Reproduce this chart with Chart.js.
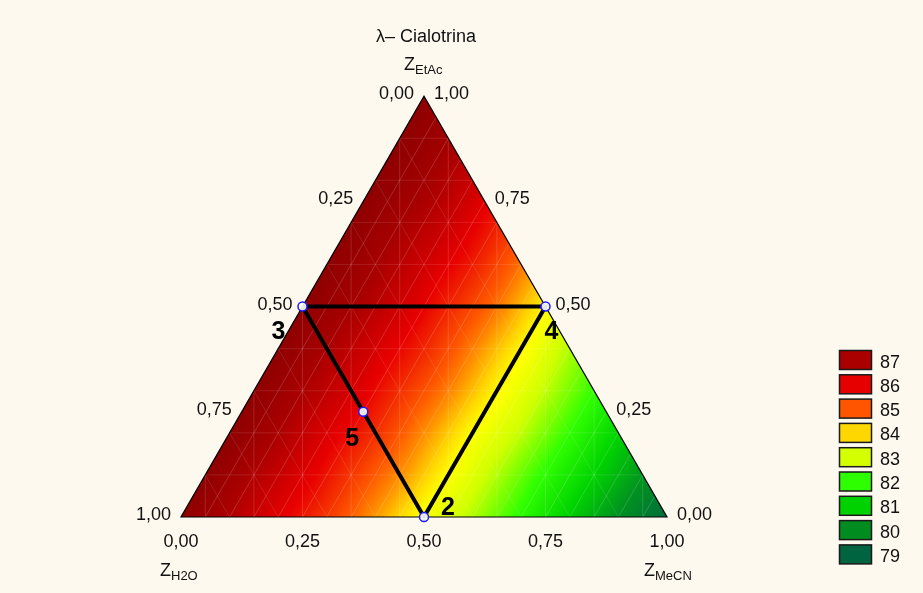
<!DOCTYPE html>
<html>
<head>
<meta charset="utf-8">
<title>λ– Cialotrina</title>
<script src="https://cdn.jsdelivr.net/npm/chart.js@4.4.1/dist/chart.umd.min.js"></script>
<style>
  html, body { margin: 0; padding: 0; background: #fdf9ef; }
  #wrap { width: 923px; height: 593px; }
</style>
</head>
<body>
<div id="wrap"><canvas id="chart" width="923" height="593"></canvas></div>
<script>
// Design runs (mixture fractions of the three solvents)
const runLabels = ['2', '3', '4', '5'];
const runH2O    = [0.50, 0.50, 0.00, 0.50];
const runMeCN   = [0.50, 0.00, 0.50, 0.25];
const runEtAc   = [0.00, 0.50, 0.50, 0.25];

// Closed path through runs 3 -> 4 -> 2 -> 3
const pathOrder = [1, 2, 0, 1];

// Axis tick labels
const tickLabels = ['0,00', '0,25', '0,50', '0,75', '1,00'];
const tickValues = [0, 0.25, 0.5, 0.75, 1];

// Legend levels
const legendLevels = [87, 86, 85, 84, 83, 82, 81, 80, 79];

// Response surface on a 0.1 lattice: row j is Z_EtAc = j/10,
// entry i in each row is Z_MeCN = i/10 (Z_H2O makes up the rest)
const surfaceRow0  = [87.7, 86.9, 86.1, 85.4, 84.5, 83.5, 82.8, 81.9, 80.9, 80.0, 79.1];
const surfaceRow1  = [87.7, 86.9, 86.2, 85.4, 84.6, 83.6, 82.8, 81.9, 81.0, 80.1];
const surfaceRow2  = [87.7, 87.0, 86.2, 85.5, 84.6, 83.6, 82.9, 82.0, 81.0];
const surfaceRow3  = [87.7, 87.0, 86.3, 85.5, 84.7, 83.7, 82.9, 82.0];
const surfaceRow4  = [87.7, 87.0, 86.3, 85.6, 84.7, 83.7, 82.8];
const surfaceRow5  = [87.7, 87.1, 86.4, 85.6, 84.8, 83.7];
const surfaceRow6  = [87.7, 87.1, 86.4, 85.7, 84.8];
const surfaceRow7  = [87.7, 87.1, 86.5, 85.7];
const surfaceRow8  = [87.7, 87.2, 86.5];
const surfaceRow9  = [87.7, 87.2];
const surfaceRow10 = [87.7];

const surfaceGrid = [surfaceRow0, surfaceRow1, surfaceRow2, surfaceRow3, surfaceRow4,
  surfaceRow5, surfaceRow6, surfaceRow7, surfaceRow8, surfaceRow9, surfaceRow10];

// Styling
const legendColors = ['#aa0000', '#e60000', '#ff5500', '#ffd700', '#d4ff00',
  '#2eff00', '#00d200', '#008c1e', '#006440'];
const rampStops = [
  [79, [0x00, 0x68, 0x40]], [80, [0x00, 0x90, 0x20]], [81, [0x00, 0xd4, 0x00]],
  [82, [0x30, 0xff, 0x00]], [83, [0xd0, 0xff, 0x00]], [83.6, [0xff, 0xff, 0x00]],
  [84, [0xff, 0xd8, 0x00]], [85, [0xff, 0x5a, 0x00]], [86, [0xe8, 0x00, 0x00]],
  [87, [0xaa, 0x00, 0x00]], [88, [0x82, 0x00, 0x00]]
];
const FONT = '"Liberation Sans", Arial, sans-serif';
const BG = '#fdf9ef';
const SQ3 = Math.sqrt(3) / 2;

// Ternary (MeCN, EtAc) -> plane coordinates
function toXY(m, e) { return { x: m + e / 2, y: e * SQ3 }; }

function rampColor(v) {
  if (v <= rampStops[0][0]) return rampStops[0][1];
  for (let k = 1; k < rampStops.length; k++) {
    if (v <= rampStops[k][0]) {
      const [v0, c0] = rampStops[k - 1], [v1, c1] = rampStops[k];
      const t = (v - v0) / (v1 - v0);
      return [0, 1, 2].map(n => c0[n] + t * (c1[n] - c0[n]));
    }
  }
  return rampStops[rampStops.length - 1][1];
}

function gridVal(i, j) {
  const row = surfaceGrid[Math.min(10, Math.max(0, j))];
  return row[Math.min(row.length - 1, Math.max(0, i))];
}

function surfaceAt(m, e) {
  const u = m * 10, v = e * 10;
  let i = Math.floor(u), j = Math.floor(v);
  if (i + j >= 10) { if (i > 0 && u >= v) i = 10 - j - 1; else j = 10 - i - 1; }
  i = Math.max(0, i); j = Math.max(0, j);
  const fu = u - i, fv = v - j;
  if (fu + fv <= 1 || i + j + 2 > 10) {
    const a = gridVal(i, j), b = gridVal(i + 1, j), c = gridVal(i, j + 1);
    return a + fu * (b - a) + fv * (c - a);
  }
  const d = gridVal(i + 1, j + 1), b = gridVal(i + 1, j), c = gridVal(i, j + 1);
  return d + (1 - fu) * (c - d) + (1 - fv) * (b - d);
}

const pathData = pathOrder.map(k => toXY(runMeCN[k], runEtAc[k]));
const runData = runLabels.map((_, k) => toXY(runMeCN[k], runEtAc[k]));

const ternaryPlugin = {
  id: 'ternary',
  beforeDraw(chart) {
    const { ctx } = chart;
    const sx = chart.scales.x, sy = chart.scales.y;
    const P = (m, e) => { const q = toXY(m, e); return [sx.getPixelForValue(q.x), sy.getPixelForValue(q.y)]; };
    ctx.save();
    ctx.fillStyle = BG;
    ctx.fillRect(0, 0, chart.width, chart.height);

    const A = P(0, 0), B = P(1, 0), C = P(0, 1);
    // rasterise the surface
    const x0 = Math.floor(A[0]) - 1, x1 = Math.ceil(B[0]) + 1;
    const y0 = Math.floor(C[1]) - 1, y1 = Math.ceil(A[1]) + 1;
    const w = x1 - x0, h = y1 - y0;
    const off = document.createElement('canvas');
    off.width = w; off.height = h;
    const octx = off.getContext('2d');
    const img = octx.createImageData(w, h);
    for (let py = 0; py < h; py++) {
      const yv = sy.getValueForPixel(y0 + py + 0.5);
      const e = yv / SQ3;
      for (let px = 0; px < w; px++) {
        const xv = sx.getValueForPixel(x0 + px + 0.5);
        const m = xv - e / 2;
        const eh = 1 - m - e;
        if (m < -0.01 || e < -0.01 || eh < -0.01) continue;
        const val = surfaceAt(Math.max(0, Math.min(1, m)), Math.max(0, Math.min(1, e)));
        const c = rampColor(val);
        const idx = (py * w + px) * 4;
        img.data[idx] = c[0]; img.data[idx + 1] = c[1]; img.data[idx + 2] = c[2]; img.data[idx + 3] = 255;
      }
    }
    octx.putImageData(img, 0, 0);

    ctx.beginPath();
    ctx.moveTo(A[0], A[1]); ctx.lineTo(B[0], B[1]); ctx.lineTo(C[0], C[1]); ctx.closePath();
    ctx.save();
    ctx.clip();
    ctx.drawImage(off, x0, y0);

    // faint mesh
    ctx.lineWidth = 1;
    const seg = (p, q) => { ctx.beginPath(); ctx.moveTo(p[0], p[1]); ctx.lineTo(q[0], q[1]); ctx.stroke(); };
    for (let k = 1; k < 20; k++) {
      const t = k / 20;
      ctx.strokeStyle = 'rgba(255,255,255,0.17)';
      seg(P(t, 0), P(t, 1 - t));                 // constant MeCN
      if (k % 2 === 0) {
        ctx.strokeStyle = 'rgba(255,255,255,0.11)';
        seg(P(0, t), P(1 - t, t));               // constant EtAc
        seg(P(0, t), P(t, 0));                   // constant H2O
      }
    }
    ctx.strokeStyle = 'rgba(255,255,255,0.14)';
    for (let k = 0; k < 10; k++) {
      const xv = 0.05 + k * 0.1;
      const px = sx.getPixelForValue(xv);
      seg([px, A[1]], [px, C[1]]);
    }
    ctx.restore();

    ctx.strokeStyle = '#000';
    ctx.lineWidth = 1.2;
    ctx.beginPath();
    ctx.moveTo(A[0], A[1]); ctx.lineTo(B[0], B[1]); ctx.lineTo(C[0], C[1]); ctx.closePath();
    ctx.stroke();
    ctx.restore();
  },
  afterDraw(chart) {
    const { ctx } = chart;
    const sx = chart.scales.x, sy = chart.scales.y;
    const P = (m, e) => { const q = toXY(m, e); return [sx.getPixelForValue(q.x), sy.getPixelForValue(q.y)]; };
    ctx.save();
    ctx.fillStyle = '#111';
    ctx.textBaseline = 'alphabetic';
    ctx.font = '18px ' + FONT;

    // title
    ctx.textAlign = 'center';
    ctx.fillText('λ– Cialotrina', P(0, 1)[0] + 2, 42);

    // H2O ticks on the left edge
    ctx.textAlign = 'right';
    tickValues.forEach((t, k) => {
      const p = P(0, 1 - t);
      ctx.fillText(tickLabels[k], p[0] - 10, p[1] + 3);
    });
    // EtAc ticks on the right edge
    ctx.textAlign = 'left';
    tickValues.forEach((t, k) => {
      const p = P(1 - t, t);
      ctx.fillText(tickLabels[k], p[0] + 10, p[1] + 3);
    });
    // MeCN ticks along the base
    ctx.textAlign = 'center';
    tickValues.forEach((t, k) => {
      const p = P(t, 0);
      ctx.fillText(tickLabels[k], p[0], p[1] + 30);
    });

    // axis titles with subscripts
    const zLabel = (x, y, sub) => {
      ctx.textAlign = 'left';
      ctx.font = '18px ' + FONT;
      ctx.fillText('Z', x, y);
      const zw = ctx.measureText('Z').width;
      ctx.font = '13px ' + FONT;
      ctx.fillText(sub, x + zw, y + 4);
    };
    zLabel(P(0, 1)[0] - 20, 70, 'EtAc');
    zLabel(P(0, 0)[0] - 21, 576, 'H2O');
    zLabel(P(1, 0)[0] - 23, 576, 'MeCN');

    // run numbers
    ctx.font = 'bold 25px ' + FONT;
    ctx.fillStyle = '#000';
    const runOffsets = { '2': [17, -2, 'left'], '3': [-17, 32, 'right'], '4': [-1, 32, 'left'], '5': [-4, 34, 'right'] };
    runLabels.forEach((lab, k) => {
      const p = P(runMeCN[k], runEtAc[k]);
      const o = runOffsets[lab];
      ctx.textAlign = o[2];
      ctx.fillText(lab, p[0] + o[0], p[1] + o[1]);
    });

    // legend
    ctx.font = '18px ' + FONT;
    ctx.textAlign = 'left';
    legendLevels.forEach((lv, k) => {
      const top = 350.5 + k * 24.3;
      ctx.fillStyle = legendColors[k];
      ctx.fillRect(839.5, top, 32, 19);
      ctx.strokeStyle = '#1a1a1a';
      ctx.lineWidth = 1.5;
      ctx.strokeRect(839.5, top, 32, 19);
      ctx.fillStyle = '#111';
      ctx.fillText(String(lv), 880, top + 17);
    });
    ctx.restore();
  }
};

new Chart(document.getElementById('chart'), {
  type: 'scatter',
  data: {
    datasets: [
      {
        label: 'path',
        data: pathData,
        showLine: true,
        borderColor: '#000',
        borderWidth: 4,
        pointRadius: 0,
        fill: false,
        order: 2
      },
      {
        label: 'runs',
        data: runData,
        pointRadius: 4.5,
        pointBorderWidth: 1.5,
        pointBorderColor: '#1a1aff',
        pointBackgroundColor: 'rgba(255,255,255,0.9)',
        order: 1
      }
    ]
  },
  options: {
    responsive: false,
    devicePixelRatio: 1,
    animation: false,
    events: [],
    layout: { padding: 0, autoPadding: false },
    plugins: { legend: { display: false }, tooltip: { enabled: false }, title: { display: false } },
    scales: {
      x: { type: 'linear', display: false, min: -181 / 486, max: (923 - 181) / 486 },
      y: { type: 'linear', display: false, min: -76 / 486, max: (593 - 76) / 486 }
    }
  },
  plugins: [ternaryPlugin]
});
</script>
</body>
</html>
